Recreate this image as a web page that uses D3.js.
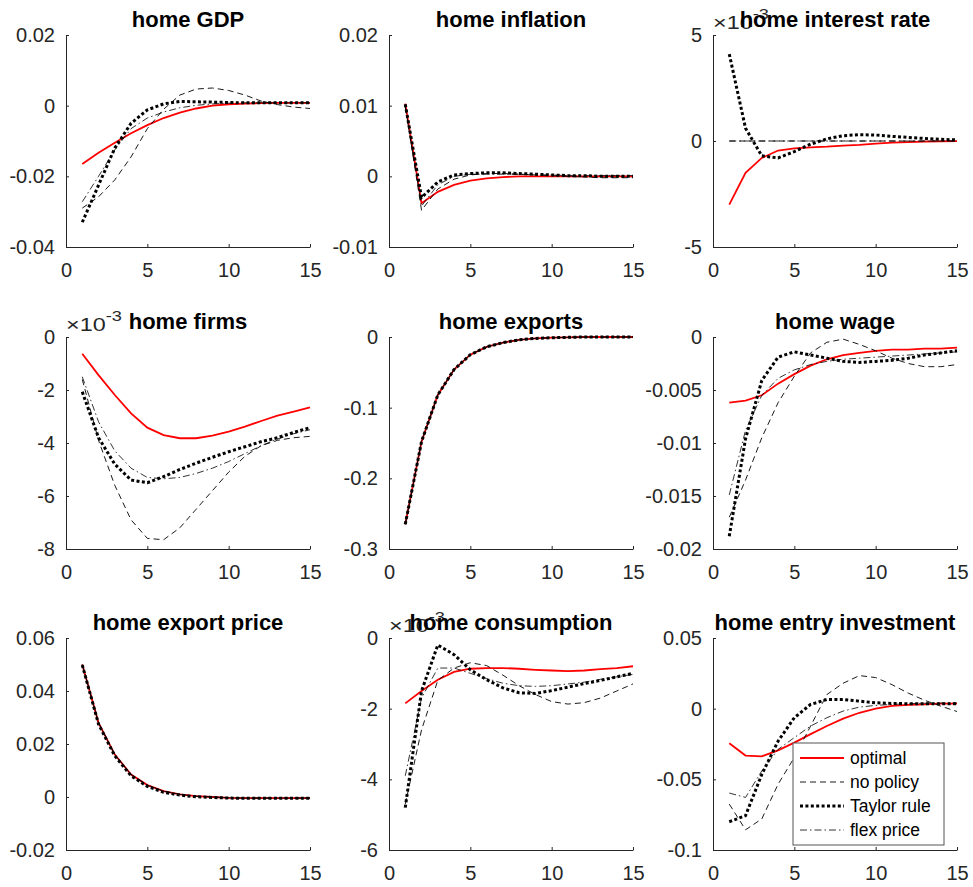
<!DOCTYPE html>
<html>
<head>
<meta charset="utf-8">
<script src="https://cdn.jsdelivr.net/npm/d3@7"></script>
<style>
  body { margin: 0; background: #fff; }
  text { font-family: Arial, "Liberation Sans", Helvetica, sans-serif; }
</style>
</head>
<body>
<svg id="chart" width="973" height="887"></svg>
<script>
// periods after the shock
const periods = [1, 2, 3, 4, 5, 6, 7, 8, 9, 10, 11, 12, 13, 14, 15]
const xTicks = [0, 5, 10, 15]

// series order: optimal, no policy, Taylor rule, flex price
const seriesNames = ["optimal", "no policy", "Taylor rule", "flex price"]

const panelTitles = ["home GDP", "home inflation", "home interest rate",
                     "home firms", "home exports", "home wage",
                     "home export price", "home consumption", "home entry investment"]

const yDomains = [[-0.04, 0.02], [-0.01, 0.02], [-0.005, 0.005],
                  [-0.008, 0], [-0.3, 0], [-0.02, 0],
                  [-0.02, 0.06], [-0.006, 0], [-0.1, 0.05]]

const yTicks = [[-0.04, -0.02, 0, 0.02], [-0.01, 0, 0.01, 0.02], [-0.005, 0, 0.005],
                [-0.008, -0.006, -0.004, -0.002, 0], [-0.3, -0.2, -0.1, 0], [-0.02, -0.015, -0.01, -0.005, 0],
                [-0.02, 0, 0.02, 0.04, 0.06], [-0.006, -0.004, -0.002, 0], [-0.1, -0.05, 0, 0.05]]

// 1 means no exponent label, 1e-3 shows "x10^-3"
const yExponent = [1, 1, 1e-3, 1e-3, 1, 1, 1, 1e-3, 1]

const gdp = [
  [-0.0165, -0.0133, -0.0105, -0.0078, -0.0055, -0.0035, -0.002, -0.0008, 0, 0.0004, 0.0006, 0.0007, 0.0008, 0.0008, 0.0008],
  [-0.029, -0.0258, -0.021, -0.0145, -0.0065, -0.001, 0.003, 0.0047, 0.005, 0.0043, 0.003, 0.0013, 0.0003, -0.0004, -0.0008],
  [-0.033, -0.0225, -0.012, -0.005, -0.0012, 0.0005, 0.0012, 0.0011, 0.001, 0.0009, 0.0008, 0.0008, 0.0008, 0.0008, 0.0008],
  [-0.0272, -0.02, -0.0125, -0.0065, -0.0035, -0.0018, -0.0006, 0.0001, 0.0005, 0.0007, 0.0008, 0.0008, 0.0008, 0.0008, 0.0008]
]
const inflation = [
  [0.0103, -0.0038, -0.0022, -0.0012, -0.0006, -0.0003, -0.0001, 0, 0, 0, 0, 0, 0, 0, 0],
  [0.0100, -0.0048, -0.0018, -0.0004, 0.0002, 0.0004, 0.0004, 0.0003, 0.0002, 0.0001, 0, -0.0001, -0.0002, -0.0002, -0.0002],
  [0.0102, -0.003, -0.0008, 0.0002, 0.0004, 0.0005, 0.0005, 0.0004, 0.0003, 0.0002, 0.0001, 0.0001, 0, 0, 0],
  [0.0098, -0.0042, -0.0012, 0, 0.0003, 0.0003, 0.0003, 0.0003, 0.0002, 0.0002, 0.0001, 0.0001, 0.0001, 0.0001, 0.0001]
]
const interestRate = [
  [-0.003, -0.0015, -0.0008, -0.00045, -0.00035, -0.0003, -0.00027, -0.00022, -0.00018, -0.00012, -0.00008, -0.00005, -0.00003, -0.00002, -0.00001],
  [0, 0, 0, 0, 0, 0, 0, 0, 0, 0, 0, 0, 0, 0, 0],
  [0.0041, 0.0006, -0.0007, -0.0008, -0.0005, -0.00015, 0.0001, 0.00025, 0.0003, 0.00028, 0.00022, 0.00017, 0.00012, 0.00008, 0.00005],
  [0, 0, 0, 0, 0, 0, 0, 0, 0, 0, 0, 0, 0, 0, 0]
]
const firms = [
  [-0.00063, -0.00144, -0.00219, -0.00288, -0.00342, -0.0037, -0.00382, -0.00382, -0.00372, -0.00357, -0.00338, -0.00317, -0.00297, -0.00282, -0.00266],
  [-0.0016, -0.0039, -0.0056, -0.0069, -0.0076, -0.00765, -0.0072, -0.0065, -0.0058, -0.0051, -0.0045, -0.0041, -0.0039, -0.0038, -0.00375],
  [-0.00207, -0.0038, -0.0048, -0.0054, -0.0055, -0.00527, -0.005, -0.00476, -0.00454, -0.00433, -0.00414, -0.00395, -0.0038, -0.0036, -0.00342],
  [-0.0015, -0.0032, -0.0043, -0.00495, -0.0053, -0.00535, -0.0053, -0.00515, -0.00495, -0.0047, -0.0044, -0.0041, -0.00385, -0.00365, -0.0035]
]
const exportsHome = [
  [-0.265, -0.148, -0.082, -0.046, -0.025, -0.014, -0.008, -0.004, -0.002, -0.001, -0.0005, 0, 0, 0, 0],
  [-0.265, -0.148, -0.082, -0.046, -0.025, -0.014, -0.008, -0.004, -0.002, -0.001, -0.0005, 0, 0, 0, 0],
  [-0.265, -0.148, -0.082, -0.046, -0.025, -0.014, -0.008, -0.004, -0.002, -0.001, -0.0005, 0, 0, 0, 0],
  [-0.265, -0.148, -0.082, -0.046, -0.025, -0.014, -0.008, -0.004, -0.002, -0.001, -0.0005, 0, 0, 0, 0]
]
const wage = [
  [-0.0062, -0.006, -0.0055, -0.0044, -0.0035, -0.0027, -0.0021, -0.0017, -0.0015, -0.0013, -0.0012, -0.0012, -0.0011, -0.0011, -0.001],
  [-0.017, -0.0135, -0.0095, -0.0062, -0.0037, -0.0015, -0.0005, -0.0002, -0.0007, -0.0013, -0.002, -0.0025, -0.0028, -0.0028, -0.0026],
  [-0.0188, -0.0096, -0.0041, -0.0019, -0.0014, -0.0017, -0.002, -0.0023, -0.0024, -0.0023, -0.0022, -0.002, -0.0017, -0.0015, -0.0013],
  [-0.0149, -0.0088, -0.0055, -0.0039, -0.0031, -0.0026, -0.0023, -0.0021, -0.002, -0.0019, -0.0018, -0.0017, -0.0016, -0.0015, -0.0014]
]
const exportPrice = [
  [0.050, 0.028, 0.016, 0.0085, 0.0045, 0.0022, 0.001, 0.0003, 0, -0.0003, -0.0004, -0.0004, -0.0004, -0.0004, -0.0004],
  [0.050, 0.028, 0.016, 0.0085, 0.0045, 0.0022, 0.001, 0.0003, 0, -0.0003, -0.0004, -0.0004, -0.0004, -0.0004, -0.0004],
  [0.0498, 0.0275, 0.0155, 0.008, 0.004, 0.0018, 0.0007, 0.0001, -0.0002, -0.0004, -0.0005, -0.0005, -0.0005, -0.0005, -0.0005],
  [0.050, 0.028, 0.016, 0.0085, 0.0045, 0.0022, 0.001, 0.0003, 0, -0.0003, -0.0004, -0.0004, -0.0004, -0.0004, -0.0004]
]
const consumption = [
  [-0.00185, -0.0015, -0.00118, -0.00096, -0.00087, -0.00085, -0.00085, -0.00087, -0.0009, -0.00092, -0.00094, -0.00092, -0.00088, -0.00085, -0.0008],
  [-0.0047, -0.0026, -0.0012, -0.00085, -0.0007, -0.00078, -0.00105, -0.00135, -0.0016, -0.0018, -0.00187, -0.00183, -0.0017, -0.0015, -0.0013],
  [-0.0048, -0.0015, -0.0002, -0.00047, -0.0009, -0.00118, -0.00141, -0.00155, -0.00157, -0.00149, -0.00139, -0.00129, -0.0012, -0.0011, -0.001],
  [-0.0039, -0.0017, -0.00085, -0.00085, -0.001, -0.00115, -0.00128, -0.00135, -0.00137, -0.00135, -0.0013, -0.00125, -0.00117, -0.0011, -0.00103]
]
const entryInvestment = [
  [-0.0245, -0.0332, -0.0337, -0.0295, -0.024, -0.018, -0.0123, -0.0071, -0.0029, 0, 0.002, 0.0027, 0.003, 0.0035, 0.0035],
  [-0.0675, -0.0857, -0.078, -0.0535, -0.0345, -0.0123, 0.01, 0.018, 0.0234, 0.022, 0.017, 0.011, 0.006, 0.0018, -0.002],
  [-0.08, -0.0757, -0.0465, -0.023, -0.0064, 0.003, 0.0065, 0.0065, 0.0053, 0.0042, 0.0037, 0.0035, 0.0035, 0.0035, 0.0035],
  [-0.0597, -0.0628, -0.044, -0.0288, -0.0205, -0.0123, -0.0064, -0.0017, 0.0011, 0.0023, 0.003, 0.0035, 0.0038, 0.004, 0.004]
]

const panelData = [gdp, inflation, interestRate, firms, exportsHome, wage, exportPrice, consumption, entryInvestment]

// line styles, MATLAB-ish
const lineStyles = [
  {color: "#ff0000", width: 1.8, dash: null},
  {color: "#000", width: 0.9, dash: "6,4"},
  {color: "#000", width: 3, dash: "3,2.4"},
  {color: "#000", width: 0.8, dash: "7,3,1.5,3"}
]

const svg = d3.select("#chart")

const colX = [66, 389, 713]
const rowY = [35, 337, 638]
const pw = 244
const ph = 212
const axisColor = "#262626"

function fmt(v) {
  return String(+v.toFixed(6))
}

panelData.forEach((series, i) => {
  const left = colX[i % 3]
  const top = rowY[Math.floor(i / 3)]
  const ex = yExponent[i]

  const x = d3.scaleLinear().domain([0, 15]).range([left, left + pw])
  const y = d3.scaleLinear().domain(yDomains[i]).range([top + ph, top])

  const g = svg.append("g")

  // lines
  const line = d3.line()
                 .x((d, k) => x(periods[k]))
                 .y(d => y(d))

  series.forEach((vals, s) => {
    const st = lineStyles[s]
    g.append("path")
       .datum(vals)
       .attr("d", line)
       .attr("fill", "none")
       .attr("stroke", st.color)
       .attr("stroke-width", st.width)
       .attr("stroke-dasharray", st.dash)
  })

  // axes
  const yAxis = d3.axisLeft(y)
                  .tickValues(yTicks[i])
                  .tickSizeInner(-3)
                  .tickSizeOuter(0)
                  .tickPadding(11)
                  .tickFormat(d => fmt(d / ex))
  const xAxis = d3.axisBottom(x)
                  .tickValues(xTicks)
                  .tickSizeInner(-3)
                  .tickSizeOuter(0)
                  .tickPadding(16)
                  .tickFormat(d => fmt(d))

  const ya = g.append("g").attr("transform", `translate(${left},0)`).call(yAxis)
  const xa = g.append("g").attr("transform", `translate(0,${top + ph})`).call(xAxis)

  for (const a of [ya, xa]) {
    a.select(".domain").attr("stroke", axisColor).attr("stroke-width", 1)
    a.selectAll(".tick line").attr("stroke", axisColor).attr("stroke-width", 1)
    a.selectAll(".tick text")
       .attr("fill", axisColor)
       .style("font-size", "20px")
       .style("font-family", "Arial, 'Liberation Sans', sans-serif")
  }

  // exponent label (MATLAB draws it a bit wide)
  if (ex !== 1) {
    const t = g.append("text")
                 .attr("transform", `translate(${left},${top - 6}) scale(1.3,1)`)
                 .attr("fill", axisColor)
                 .style("font-size", "18px")
    t.append("tspan").text("\u00d710")
    t.append("tspan").attr("dy", -10).style("font-size", "14px").text("-3")
  }

  // title
  g.append("text")
     .attr("x", left + pw / 2)
     .attr("y", top - 8)
     .attr("text-anchor", "middle")
     .attr("fill", "#000")
     .style("font-size", "22px")
     .style("font-weight", "bold")
     .text(panelTitles[i])
})

// legend in the last panel
const legend = svg.append("g").attr("transform", "translate(793,743)")
legend.append("rect")
        .attr("width", 151)
        .attr("height", 102)
        .attr("fill", "#fff")
        .attr("stroke", "#555")
        .attr("stroke-width", 1)

seriesNames.forEach((name, s) => {
  const st = lineStyles[s]
  const ly = 15 + s * 24
  legend.append("line")
          .attr("x1", 7).attr("x2", 51)
          .attr("y1", ly).attr("y2", ly)
          .attr("stroke", st.color)
          .attr("stroke-width", st.width)
          .attr("stroke-dasharray", st.dash)
  legend.append("text")
          .attr("x", 57)
          .attr("y", ly)
          .attr("dy", "0.35em")
          .attr("fill", "#000")
          .style("font-size", "17.5px")
          .text(name)
})
</script>
</body>
</html>
